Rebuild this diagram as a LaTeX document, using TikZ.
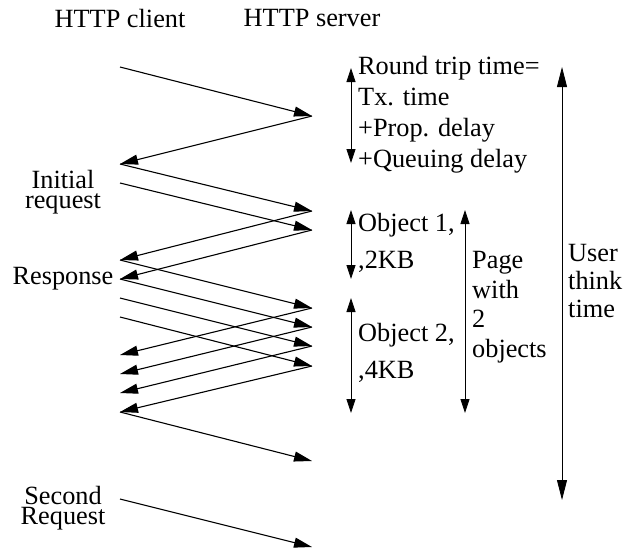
\documentclass[tikz,border=0pt]{standalone}
\usepackage{fontspec}
\setmainfont{Liberation Serif}
\usetikzlibrary{arrows.meta}
\begin{document}
\begin{tikzpicture}[x=1pt,y=-1pt,
  msg/.style={line width=1.1pt,-{Triangle[length=18pt,width=10pt]}},
  span/.style={line width=0.8pt,{Triangle[length=14pt,width=9pt]}-{Triangle[length=14pt,width=9pt]}},
  lbl/.style={inner sep=0pt,align=left,anchor=west},
  clbl/.style={inner sep=0pt,align=center}]
\useasboundingbox (0,0) rectangle (634,550);
% headers
\node[clbl,font=\fontsize{26.3}{30}\selectfont] (hc) at (120,18) {HTTP client};
\node[clbl,font=\fontsize{26.3}{30}\selectfont] (hs) at (312,18) {HTTP server};
% client side labels
\node[clbl,font=\fontsize{26.3}{20}\selectfont] (init) at (63,192) {Initial\\request};
\node[clbl,font=\fontsize{26.3}{30}\selectfont] (resp) at (63,279) {Response};
\node[clbl,font=\fontsize{26.3}{20}\selectfont] (second) at (63,508) {Second\\Request};
% client points
\coordinate (cA) at (120,67);
\coordinate (cB) at (120,164);
\coordinate (cC) at (120,183);
\coordinate (cD) at (120,260);
\coordinate (cE) at (120,279);
\coordinate (cF) at (120,298);
\coordinate (cG) at (120,317);
\coordinate (cH) at (120,355);
\coordinate (cI) at (120,374);
\coordinate (cJ) at (120,393);
\coordinate (cK) at (120,412);
\coordinate (cL) at (120,499);
% server points
\coordinate (sA) at (312,116);
\coordinate (sB) at (312,211);
\coordinate (sC) at (312,230);
\coordinate (sD) at (312,308);
\coordinate (sE) at (312,327);
\coordinate (sF) at (312,346);
\coordinate (sG) at (312,366);
\coordinate (sH) at (312,461);
\coordinate (sI) at (312,547);
% messages
\draw[msg] (cA) -- (sA);
\draw[msg] (sA) -- (cB);
\draw[msg] (cB) -- (sB);
\draw[msg] (cC) -- (sC);
\draw[msg] (sB) -- (cD);
\draw[msg] (sC) -- (cE);
\draw[msg] (cD) -- (sD);
\draw[msg] (cE) -- (sE);
\draw[msg] (cF) -- (sF);
\draw[msg] (cG) -- (sG);
\draw[msg] (sD) -- (cH);
\draw[msg] (sE) -- (cI);
\draw[msg] (sF) -- (cJ);
\draw[msg] (sG) -- (cK);
\draw[msg] (cK) -- (sH);
\draw[msg] (cL) -- (sI);
% spans
\coordinate (rttT) at (351,68);  \coordinate (rttB) at (351,163);
\coordinate (o1T) at (351,210);  \coordinate (o1B) at (351,279);
\coordinate (o2T) at (351,298);  \coordinate (o2B) at (351,413);
\coordinate (pgT) at (465,210);  \coordinate (pgB) at (465,413);
\coordinate (utT) at (562,67);   \coordinate (utB) at (562,500);
\draw[span] (rttT) -- (rttB);
\draw[span] (o1T) -- (o1B);
\draw[span] (o2T) -- (o2B);
\draw[span] (pgT) -- (pgB);
\draw[span,{Triangle[length=20pt,width=10pt]}-{Triangle[length=20pt,width=10pt]}] (utT) -- (utB);
% right labels
\node[lbl,font=\fontsize{26.3}{31}\selectfont] (rtt) at (358,115) {Round trip time=\\Tx. time\\+Prop. delay\\+Queuing delay};
\node[lbl,font=\fontsize{26.3}{37}\selectfont] (o1) at (358,243) {Object 1,\\,2KB};
\node[lbl,font=\fontsize{26.3}{37}\selectfont] (o2) at (358,353) {Object 2,\\,4KB};
\node[lbl,font=\fontsize{26.3}{29.5}\selectfont] (pg) at (472,307) {Page\\with\\2\\objects};
\node[lbl,font=\fontsize{26.3}{28}\selectfont] (ut) at (568,281) {User\\think\\time};
\end{tikzpicture}
\end{document}
